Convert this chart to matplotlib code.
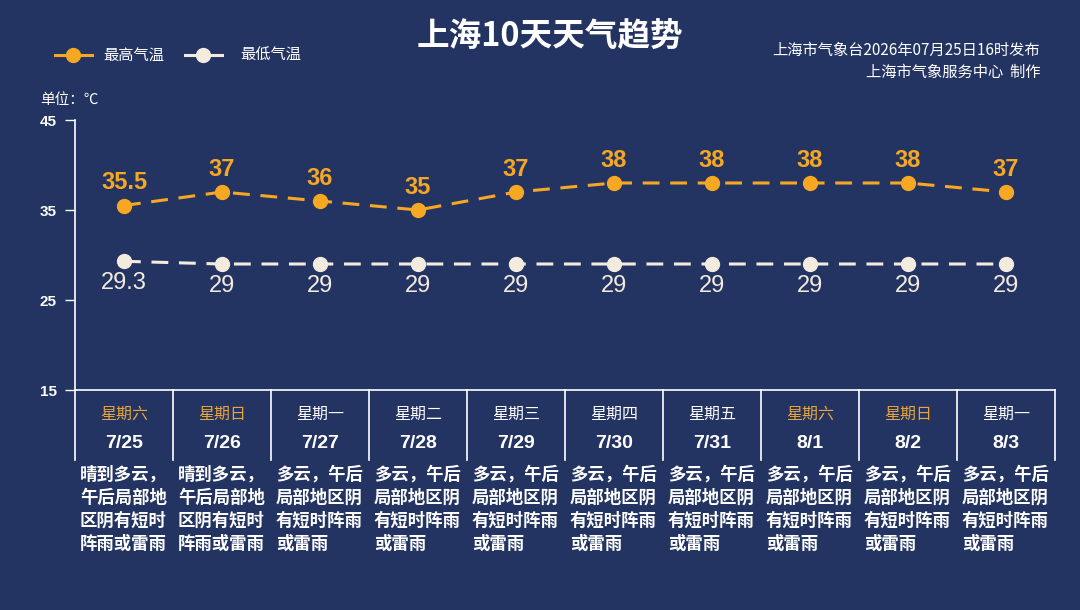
import numpy as np
import matplotlib
matplotlib.use("Agg")
import matplotlib.pyplot as plt

plt.rcParams['font.family'] = ['Noto Sans CJK SC', 'DejaVu Sans']

weekdays = ['星期六', '星期日', '星期一', '星期二', '星期三', '星期四', '星期五', '星期六', '星期日', '星期一']
dates = ['7/25', '7/26', '7/27', '7/28', '7/29', '7/30', '7/31', '8/1', '8/2', '8/3']
high = [35.5, 37, 36, 35, 37, 38, 38, 38, 38, 37]
low = [29.3, 29, 29, 29, 29, 29, 29, 29, 29, 29]
high_labels = ['35.5', '37', '36', '35', '37', '38', '38', '38', '38', '37']
low_labels = ['29.3', '29', '29', '29', '29', '29', '29', '29', '29', '29']
desc_a = '晴到多云，\n午后局部地\n区阴有短时\n阵雨或雷雨'
desc_b = '多云，午后\n局部地区阴\n有短时阵雨\n或雷雨'
descs = [desc_a, desc_a] + [desc_b] * 8
yticks = [15, 25, 35, 45]

BG = '#233462'
ORANGE = '#F7A823'
WEEKEND = '#E9A53C'
CREAM = '#F4EBDF'
WHITE = '#FFFFFF'
NUMFONT = ['Liberation Sans', 'DejaVu Sans']

fig = plt.figure(figsize=(10.8, 6.1), dpi=100, facecolor=BG)
ax = fig.add_axes([75/1080, 1-390/610, 980/1080, 270/610])
ax.set_facecolor(BG)

x = np.arange(len(dates))
ax.plot(x, high, color=ORANGE, lw=2.2, dashes=(5.5, 3.5), marker='o', ms=10,
        mfc=ORANGE, mec=ORANGE, zorder=3)
ax.plot(x, low, color=CREAM, lw=2.2, dashes=(5.5, 3.5), marker='o', ms=10,
        mfc=CREAM, mec=CREAM, zorder=3)

for i in range(len(x)):
    ax.annotate(high_labels[i], (x[i], high[i]), xytext=(0, 8), textcoords='offset points',
                ha='center', va='bottom', color=ORANGE, fontsize=17, fontweight='bold',
                family=NUMFONT)
    ax.annotate(low_labels[i], (x[i], low[i]), xytext=(0, -8), textcoords='offset points',
                ha='center', va='top', color=CREAM, fontsize=17, family=NUMFONT)

ax.set_xlim(-0.5, len(x) - 0.5)
ax.set_ylim(15, 45)
ax.set_yticks(yticks)
ax.set_yticklabels([str(t) for t in yticks], color=WHITE, fontsize=11, fontweight='bold',
                   family=NUMFONT)
ax.tick_params(axis='y', colors=WHITE, length=7, width=1, pad=6, labelcolor=WHITE)
ax.set_xticks([])
for s in ['top', 'right']:
    ax.spines[s].set_visible(False)
for s in ['left', 'bottom']:
    ax.spines[s].set_color(WHITE)
    ax.spines[s].set_linewidth(1.2)

# table under the axis
tr = ax.get_xaxis_transform()
for e in np.arange(len(x) + 1) - 0.5:
    ax.plot([e, e], [0, -70/270], color=WHITE, lw=1.2, transform=tr, clip_on=False)
for i in range(len(x)):
    c = WEEKEND if weekdays[i] in ('星期六', '星期日') else WHITE
    ax.text(x[i], -24/270, weekdays[i], transform=tr, ha='center', va='center',
            color=c, fontsize=11.5)
    ax.text(x[i], -53/270, dates[i], transform=tr, ha='center', va='center',
            color=WHITE, fontsize=14, fontweight='bold', family=NUMFONT)
    ax.text(x[i] - 0.45, -76/270, descs[i], transform=tr, ha='left', va='top',
            color=WHITE, fontsize=12.5, fontweight='bold', linespacing=1.35)

# title, legend, notes
fig.text(550/1080, 1-37/610, '上海10天天气趋势', ha='center', va='center',
         color=WHITE, fontsize=23.5, fontweight='bold')
fig.text(1040/1080, 1-50/610, '上海市气象台2026年07月25日16时发布', ha='right', va='center',
         color=WHITE, fontsize=11)
fig.text(1040/1080, 1-72/610, '上海市气象服务中心  制作', ha='right', va='center',
         color=WHITE, fontsize=11)
fig.text(40/1080, 1-100/610, '单位：℃', ha='left', va='center', color=WHITE, fontsize=10.5)

lx = fig.add_axes([0, 1-70/610, 1, 30/610])
lx.set_xlim(0, 1080)
lx.set_ylim(0, 30)
lx.axis('off')
lx.plot([55, 92], [15, 15], color=ORANGE, lw=2.2)
lx.plot([73], [15], 'o', ms=10, color=ORANGE)
lx.text(103, 15, '最高气温', color=WHITE, fontsize=11, va='center')
lx.plot([185, 222], [15, 15], color=CREAM, lw=2.2)
lx.plot([203], [15], 'o', ms=10, color=CREAM)
lx.text(240, 15, '最低气温', color=WHITE, fontsize=11, va='center')

fig.savefig('out.png', dpi=100, facecolor=BG)
